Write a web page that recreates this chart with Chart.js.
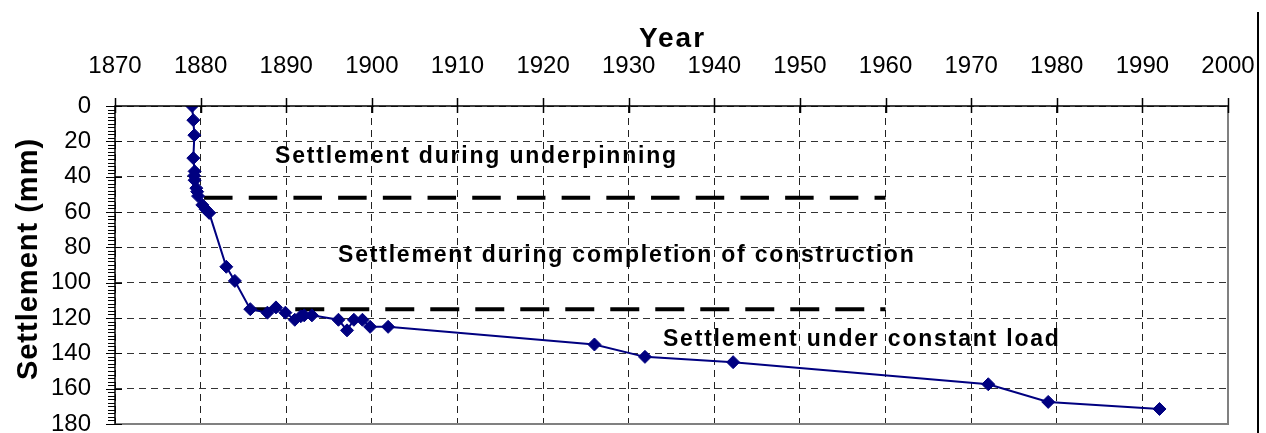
<!DOCTYPE html>
<html>
<head>
<meta charset="utf-8">
<script src="https://cdn.jsdelivr.net/npm/chart.js@4/dist/chart.umd.min.js"></script>
<style>
  html, body { margin: 0; padding: 0; background: #ffffff; }
  #wrap { width: 1266px; height: 433px; }
</style>
</head>
<body>
<div id="wrap"><canvas id="chart" width="1266" height="433"></canvas></div>
<script>
// Measured settlement of the building over time
const years = [1879, 1879.15, 1879.27, 1879.15, 1879.3, 1879.25, 1879.3, 1879.5, 1879.6, 1879.7,
               1880.2, 1880.6, 1881.0, 1883, 1884, 1885.8, 1887.8, 1888.8, 1889.9, 1891,
               1891.7, 1892.1, 1893, 1896.1, 1897.1, 1897.9, 1898.9, 1899.8, 1901.9, 1926,
               1931.9, 1942.2, 1972, 1979, 1992];
const settlement = [0, 8, 16.5, 29.5, 37, 39.5, 42, 46.5, 48.5, 51,
                    56, 58.5, 60.5, 91, 99, 115, 117, 114, 117, 121,
                    119, 118.5, 118.5, 121, 127, 121, 121, 125, 125, 135,
                    142, 145, 157.5, 167.5, 171.5];

// Phase boundaries (end of underpinning, end of construction)
const underpinningYears = [1880.4, 1960];
const underpinningLevel = [52, 52];
const constructionYears = [1885.8, 1960];
const constructionLevel = [115, 115];

// Axis ranges and tick steps
const yearTicks = [1870, 1880, 1890, 1900, 1910, 1920, 1930, 1940, 1950, 1960, 1970, 1980, 1990, 2000];
const settlementTicks = [0, 20, 40, 60, 80, 100, 120, 140, 160, 180];

// Phase captions
const phaseLabels = ['Settlement during underpinning',
                     'Settlement during completion of construction',
                     'Settlement under constant load'];

const FONT = '"Liberation Sans", Arial, Helvetica, sans-serif';

const toPoints = (xs, ys) => xs.map((x, i) => ({ x: x, y: ys[i] }));

// Caption anchors (left edge, baseline) in data units
const captionAnchors = [
  { x: 1888.7, y: 32.4 },
  { x: 1896.05, y: 88.1 },
  { x: 1934.0, y: 136.0 }
];

// keep the plot box fixed regardless of label overhang
const noScalePadding = s => {
  s.paddingLeft = 0; s.paddingRight = 0; s.paddingTop = 0; s.paddingBottom = 0;
};

const decorations = {
  id: 'decorations',
  afterDraw(chart) {
    const { ctx, chartArea: a, scales } = chart;
    const xs = scales.x, ys = scales.y;
    ctx.save();

    // plot frame: grey right and bottom edges
    ctx.strokeStyle = '#808080';
    ctx.lineWidth = 2;
    ctx.beginPath();
    ctx.moveTo(a.left, a.bottom);
    ctx.lineTo(a.right, a.bottom);
    ctx.lineTo(a.right, a.top);
    ctx.stroke();

    // crossing tick marks on the year axis
    ctx.strokeStyle = '#000';
    ctx.lineWidth = 1.5;
    yearTicks.forEach(v => {
      const px = Math.round(xs.getPixelForValue(v)) + 0.5;
      ctx.beginPath();
      ctx.moveTo(px, a.top - 8);
      ctx.lineTo(px, a.top + 7);
      ctx.stroke();
    });

    // major and minor tick marks on the settlement axis
    ctx.lineWidth = 1;
    for (let v = 0; v <= 180; v += 2) {
      const py = Math.round(ys.getPixelForValue(v)) + 0.5;
      const major = v % 20 === 0;
      ctx.beginPath();
      ctx.moveTo(a.left - (major ? 9 : 7), py);
      ctx.lineTo(a.left + (major ? 7 : 0), py);
      ctx.stroke();
    }

    // axis lines
    ctx.lineWidth = 1.5;
    ctx.beginPath();
    ctx.moveTo(a.left, a.bottom);
    ctx.lineTo(a.left, a.top);
    ctx.lineTo(a.right, a.top);
    ctx.stroke();

    // outer frame line on the right
    ctx.lineWidth = 2;
    ctx.beginPath();
    ctx.moveTo(1258, 12);
    ctx.lineTo(1258, 433);
    ctx.stroke();

    // axis titles
    ctx.fillStyle = '#000';
    ctx.textAlign = 'center';
    ctx.textBaseline = 'alphabetic';
    ctx.font = 'bold 28px ' + FONT;
    if ('letterSpacing' in ctx) ctx.letterSpacing = '2px';
    ctx.fillText('Year', (a.left + a.right) / 2 + 1, 46.5);

    ctx.save();
    ctx.translate(37, 259);
    ctx.rotate(-Math.PI / 2);
    ctx.font = 'bold 29px ' + FONT;
    if ('letterSpacing' in ctx) ctx.letterSpacing = '1px';
    ctx.fillText('Settlement (mm)', 0, 0);
    ctx.restore();

    // phase captions
    ctx.textAlign = 'left';
    ctx.font = 'bold 23px ' + FONT;
    if ('letterSpacing' in ctx) ctx.letterSpacing = '1.8px';
    phaseLabels.forEach((t, i) => {
      const p = captionAnchors[i];
      ctx.fillText(t, xs.getPixelForValue(p.x), ys.getPixelForValue(p.y));
    });

    ctx.restore();
  }
};

new Chart(document.getElementById('chart'), {
  type: 'scatter',
  data: {
    datasets: [
      {
        label: 'Settlement',
        data: toPoints(years, settlement),
        showLine: true,
        borderColor: '#000080',
        backgroundColor: '#000080',
        borderWidth: 2,
        pointStyle: 'rectRot',
        pointRadius: 6.5,
        pointBorderWidth: 1,
        pointBorderColor: '#000080',
        pointBackgroundColor: '#000080',
        order: 0
      },
      {
        label: 'End of underpinning',
        data: toPoints(underpinningYears, underpinningLevel),
        showLine: true,
        borderColor: '#000',
        borderWidth: 4,
        borderDash: [28.5, 16.2],
        pointRadius: 0,
        order: 1
      },
      {
        label: 'End of construction',
        data: toPoints(constructionYears, constructionLevel),
        showLine: true,
        borderColor: '#000',
        borderWidth: 4,
        borderDash: [29, 16],
        pointRadius: 0,
        order: 1
      }
    ]
  },
  options: {
    responsive: false,
    animation: false,
    devicePixelRatio: 1,
    layout: { padding: { left: 0, top: 0, right: 38, bottom: 9 } },
    plugins: {
      legend: { display: false },
      tooltip: { enabled: false },
      title: { display: false }
    },
    scales: {
      x: {
        type: 'linear',
        position: 'top',
        min: yearTicks[0],
        max: yearTicks[yearTicks.length - 1],
        afterBuildTicks: s => { s.ticks = yearTicks.map(v => ({ value: v })); },
        afterFit: s => { s.height = 106; noScalePadding(s); },
        grid: { color: '#222', lineWidth: 1, drawTicks: false },
        border: { display: false, dash: [7, 5] },
        ticks: {
          color: '#000',
          padding: 25,
          maxRotation: 0,
          autoSkip: false,
          font: { family: FONT, size: 24 },
          callback: v => String(v)
        }
      },
      y: {
        type: 'linear',
        reverse: true,
        min: settlementTicks[0],
        max: settlementTicks[settlementTicks.length - 1],
        afterBuildTicks: s => { s.ticks = settlementTicks.map(v => ({ value: v })); },
        afterFit: s => { s.width = 115; noScalePadding(s); },
        grid: { color: '#333', lineWidth: 1, drawTicks: false },
        border: { display: false, dash: [7, 5] },
        ticks: {
          color: '#000',
          padding: 24,
          autoSkip: false,
          font: { family: FONT, size: 24 },
          callback: v => String(v)
        }
      }
    }
  },
  plugins: [decorations]
});
</script>
</body>
</html>
